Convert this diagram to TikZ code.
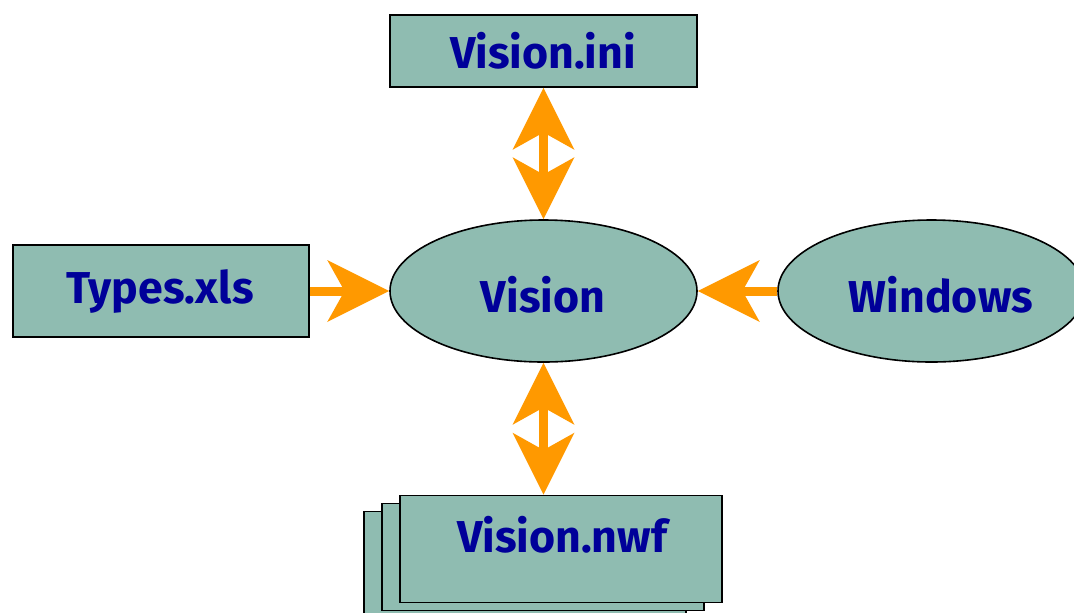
\documentclass[tikz,border=0pt]{standalone}
\usepackage{fontspec}
\setmainfont{Fira Sans}
\usetikzlibrary{arrows.meta,shapes.geometric}
\definecolor{boxfill}{HTML}{8FBCB1}
\definecolor{inktext}{HTML}{000099}
\definecolor{orangearrow}{HTML}{FF9900}
\tikzset{
  x=0.75pt,y=-0.75pt,
  boxnode/.style={draw=black,fill=boxfill,line width=1.2pt,rectangle,inner sep=0pt},
  ovalnode/.style={draw=black,fill=boxfill,line width=1.2pt,ellipse,inner sep=0pt,minimum width=230.25pt,minimum height=106.5pt},
  labeltext/.style={text=inktext,font=\fontsize{33.5}{36}\selectfont\bfseries,inner sep=0pt,anchor=base},
  conn/.style={draw=orangearrow,line width=6.75pt},
  bigtip/.tip={Stealth[length=46.5pt,width=46.5pt,inset=13pt,line width=0pt,fill=orangearrow]},
  oneway/.style={conn,-bigtip},
  twoway/.style={conn,bigtip-bigtip},
}
\begin{document}
\begin{tikzpicture}
\clip (0,0) rectangle (1074,612);
\fill[white] (0,0) rectangle (1074,612);
\node[boxnode,minimum width=230.25pt,minimum height=54pt] (ini) at (543.5,51) {};
\node[boxnode,minimum width=222pt,minimum height=69pt] (types) at (161,291) {};
\node[ovalnode] (vision) at (543.5,291) {};
\node[ovalnode] (windows) at (931.5,291) {};
\node[boxnode,minimum width=241.5pt,minimum height=80.25pt] (nwfc) at (525,565) {};
\node[boxnode,minimum width=241.5pt,minimum height=80.25pt] (nwfb) at (543,557) {};
\node[boxnode,minimum width=241.5pt,minimum height=80.25pt] (nwfa) at (561,549) {};
\node[labeltext] (tini) at (543,68) {Vision.ini};
\node[labeltext] (ttypes) at (160,303) {Types.xls};
\node[labeltext] (tvision) at (543,312) {Vision};
\node[labeltext] (twindows) at (941,312) {Windows};
\node[labeltext] (tnwf) at (562,552) {Vision.nwf};
\draw[twoway] (ini.south) -- (vision.north);
\draw[oneway] (types.east) -- (vision.west);
\draw[oneway] (windows.west) -- (vision.east);
\coordinate (nwftop) at (vision.south |- nwfa.north);
\draw[twoway] (vision.south) -- (nwftop);
\end{tikzpicture}
\end{document}
